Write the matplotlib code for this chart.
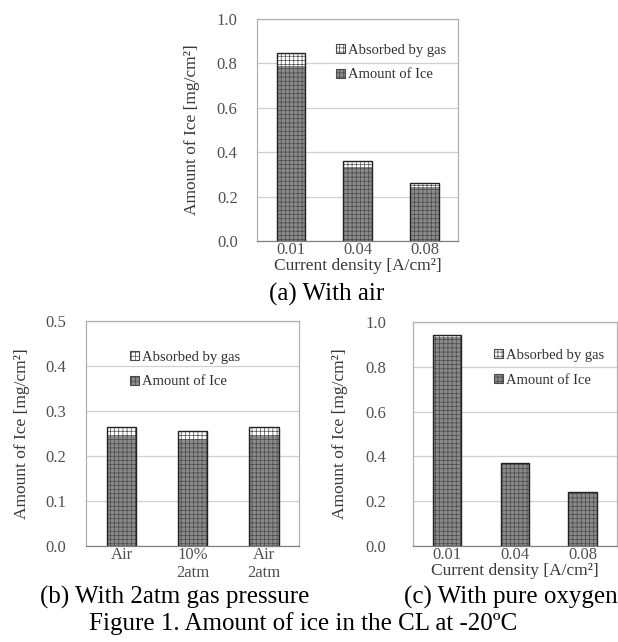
import numpy as np
import matplotlib
matplotlib.use("Agg")
import matplotlib.pyplot as plt
from matplotlib.patches import Patch

plt.rcParams['font.family'] = ['Liberation Serif', 'DejaVu Serif']
plt.rcParams['hatch.linewidth'] = 0.5

# (a) with air
cd_labels = ["0.01", "0.04", "0.08"]
ice_air = [0.790, 0.335, 0.245]
gas_air = [0.058, 0.024, 0.018]

# (b) with 2atm gas pressure
press_labels = ["Air", "10%\n2atm", "Air\n2atm"]
ice_press = [0.245, 0.238, 0.245]
gas_press = [0.019, 0.017, 0.019]

# (c) with pure oxygen
ice_o2 = [0.934, 0.365, 0.236]
gas_o2 = [0.010, 0.006, 0.004]

ICE_FC = "#8a8a8a"
HATCH_C = "#4a4a4a"
TICK_C = "#505050"
GRID_C = "#d0d0d0"


def stack(ax, labels, ice, gas, ymax, ystep, xlabel, leg_xy, ypad, ylab_x):
	x = np.arange(len(labels))
	w = 0.42
	ax.bar(x, ice, w, color=ICE_FC, edgecolor=HATCH_C, hatch='++++', linewidth=0, zorder=3)
	ax.bar(x, gas, w, bottom=ice, color='white', edgecolor=HATCH_C, hatch='++++', linewidth=0, zorder=3)
	ax.bar(x, np.array(ice) + np.array(gas), w, fill=False, edgecolor='#222222', linewidth=1.0, zorder=4)
	ax.set_xlim(-0.5, len(labels) - 0.5)
	ax.set_ylim(0, ymax)
	yt = np.arange(0, ymax + ystep / 2, ystep)
	ax.set_yticks(yt)
	ax.set_yticklabels(["{:.1f}".format(v) for v in yt])
	ax.set_xticks(x)
	ax.set_xticklabels(labels, va='top', linespacing=1.15)
	ax.tick_params(axis='both', length=0, colors=TICK_C, labelsize=12)
	ax.tick_params(axis='y', pad=ypad)
	ax.tick_params(axis='x', pad=1)
	ax.yaxis.grid(True, color=GRID_C, linewidth=0.9, zorder=0)
	for s in ax.spines.values():
		s.set_color('#b0b0b0')
		s.set_linewidth(0.9)
	ax.spines['bottom'].set_color('#808080')
	ax.set_ylabel("Amount of Ice [mg/cm²]", fontsize=12.5, color='#383838')
	ax.yaxis.set_label_coords(ylab_x, 0.5)
	if xlabel:
		ax.set_xlabel("Current density [A/cm²]", fontsize=12.5, color='#383838', labelpad=0)
	hd = [Patch(facecolor='white', edgecolor=HATCH_C, hatch='++++', linewidth=0.8),
		Patch(facecolor=ICE_FC, edgecolor=HATCH_C, hatch='++++', linewidth=0.8)]
	ax.legend(hd, ["Absorbed by gas", "Amount of Ice"], loc='upper left', bbox_to_anchor=leg_xy,
		frameon=False, fontsize=10.5, handlelength=0.6, handleheight=0.6, handletextpad=0.25,
		labelspacing=0.8, borderaxespad=0, borderpad=0, labelcolor='#303030')


fig = plt.figure(figsize=(6.18, 6.42), dpi=100)
ax1 = fig.add_axes([0.416, 0.6246, 0.325, 0.346])
ax2 = fig.add_axes([0.139, 0.150, 0.345, 0.350])
ax3 = fig.add_axes([0.668, 0.150, 0.330, 0.348])

stack(ax1, cd_labels, ice_air, gas_air, 1.0, 0.2, True, (0.393, 0.888), 14, -0.285)
stack(ax2, press_labels, ice_press, gas_press, 0.5, 0.1, False, (0.206, 0.868), 14, -0.263)
stack(ax3, cd_labels, ice_o2, gas_o2, 1.0, 0.2, True, (0.397, 0.881), 19, -0.319)

fig.text(327 / 618, 1 - 294 / 642, "(a) With air", ha='center', va='center', fontsize=18)
fig.text(40 / 618, 1 - 597 / 642, "(b) With 2atm gas pressure", ha='left', va='center', fontsize=18)
fig.text(1.0, 1 - 597 / 642, "(c) With pure oxygen", ha='right', va='center', fontsize=18)
fig.text(303 / 618, 1 - 624 / 642, "Figure 1. Amount of ice in the CL at -20ºC", ha='center', va='center', fontsize=18)

fig.savefig("out.png", dpi=100)
